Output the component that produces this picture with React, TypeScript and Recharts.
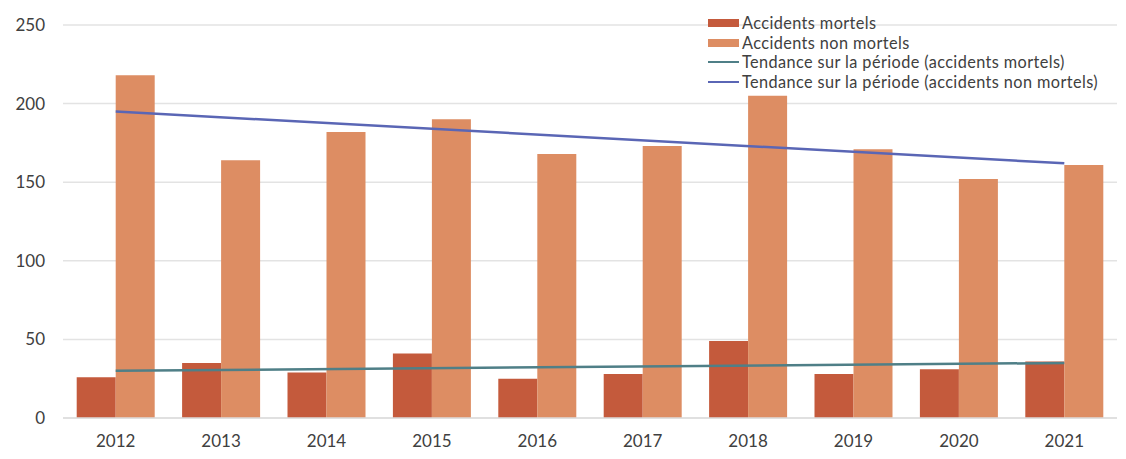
import {
  Bar,
  CartesianGrid,
  ComposedChart,
  Line,
  XAxis,
  YAxis,
} from "recharts";

const years = ["2012", "2013", "2014", "2015", "2016", "2017", "2018", "2019", "2020", "2021"];
const mortels = [26, 35, 29, 41, 25, 28, 49, 28, 31, 36];
const nonMortels = [218, 164, 182, 190, 168, 173, 205, 171, 152, 161];
const trendMortels = [30, null, null, null, null, null, null, null, null, 35];
const trendNonMortels = [195, null, null, null, null, null, null, null, null, 162];
const yTicks = [0, 50, 100, 150, 200, 250];

const COLOR_MORTELS = "#c45a3c";
const COLOR_NON_MORTELS = "#dd8d63";
const COLOR_TREND_MORTELS = "#4f7f87";
const COLOR_TREND_NON_MORTELS = "#5a66b5";
const TEXT = "#404040";
const FONT = "Lato, 'Open Sans', sans-serif";

const data = years.map((year, i) => ({
  year,
  mortels: mortels[i],
  nonMortels: nonMortels[i],
  trendMortels: trendMortels[i],
  trendNonMortels: trendNonMortels[i],
}));

type LegendItem = { value: string; color: string; type: string };

const legendItems: LegendItem[] = [
  { value: "Accidents mortels", color: COLOR_MORTELS, type: "rect" },
  { value: "Accidents non mortels", color: COLOR_NON_MORTELS, type: "rect" },
  { value: "Tendance sur la période (accidents mortels)", color: COLOR_TREND_MORTELS, type: "line" },
  { value: "Tendance sur la période (accidents non mortels)", color: COLOR_TREND_NON_MORTELS, type: "line" },
];

function ChartLegend() {
  return (
    <div
      style={{
        position: "absolute",
        left: 708,
        top: 13,
        fontFamily: FONT,
        fontSize: 16.3,
        letterSpacing: 0.4,
        lineHeight: "19.5px",
        color: TEXT,
      }}
    >
      {legendItems.map((item) => (
        <div
          key={item.value}
          style={{ display: "flex", alignItems: "center", height: 19.7, whiteSpace: "nowrap" }}
        >
          <span
            style={{
              display: "inline-block",
              width: 31,
              height: item.type === "rect" ? 8 : 2,
              background: item.color,
              marginRight: 3,
            }}
          />
          <span>{item.value}</span>
        </div>
      ))}
    </div>
  );
}

export default function App() {
  return (
    <div style={{ position: "absolute", left: 0, top: 0, width: 1126, height: 459, background: "#fff" }}>
      <ComposedChart
        width={1126}
        height={459}
        data={data}
        margin={{ top: 25, right: 9, bottom: 0, left: 0 }}
        barCategoryGap="13%"
        barGap={0}
      >
        <CartesianGrid vertical={false} stroke="#e3e3e3" strokeWidth={1.5} />
        <XAxis
          dataKey="year"
          height={41}
          axisLine={{ stroke: "#dcdcdc", strokeWidth: 1.5 }}
          tickLine={false}
          tickMargin={11}
          tick={{ fill: TEXT, fontSize: 17, fontFamily: FONT }}
        />
        <YAxis
          width={63}
          domain={[0, 250]}
          ticks={yTicks}
          axisLine={false}
          tickLine={false}
          tickMargin={12}
          tick={{ fill: TEXT, fontSize: 17, fontFamily: FONT }}
        />
        <Bar dataKey="mortels" name="Accidents mortels" fill={COLOR_MORTELS} isAnimationActive={false} />
        <Bar dataKey="nonMortels" name="Accidents non mortels" fill={COLOR_NON_MORTELS} isAnimationActive={false} />
        <Line
          dataKey="trendMortels"
          name="Tendance sur la période (accidents mortels)"
          stroke={COLOR_TREND_MORTELS}
          strokeWidth={2.5}
          dot={false}
          connectNulls
          isAnimationActive={false}
        />
        <Line
          dataKey="trendNonMortels"
          name="Tendance sur la période (accidents non mortels)"
          stroke={COLOR_TREND_NON_MORTELS}
          strokeWidth={2.5}
          dot={false}
          connectNulls
          isAnimationActive={false}
        />
      </ComposedChart>
      <ChartLegend />
    </div>
  );
}
